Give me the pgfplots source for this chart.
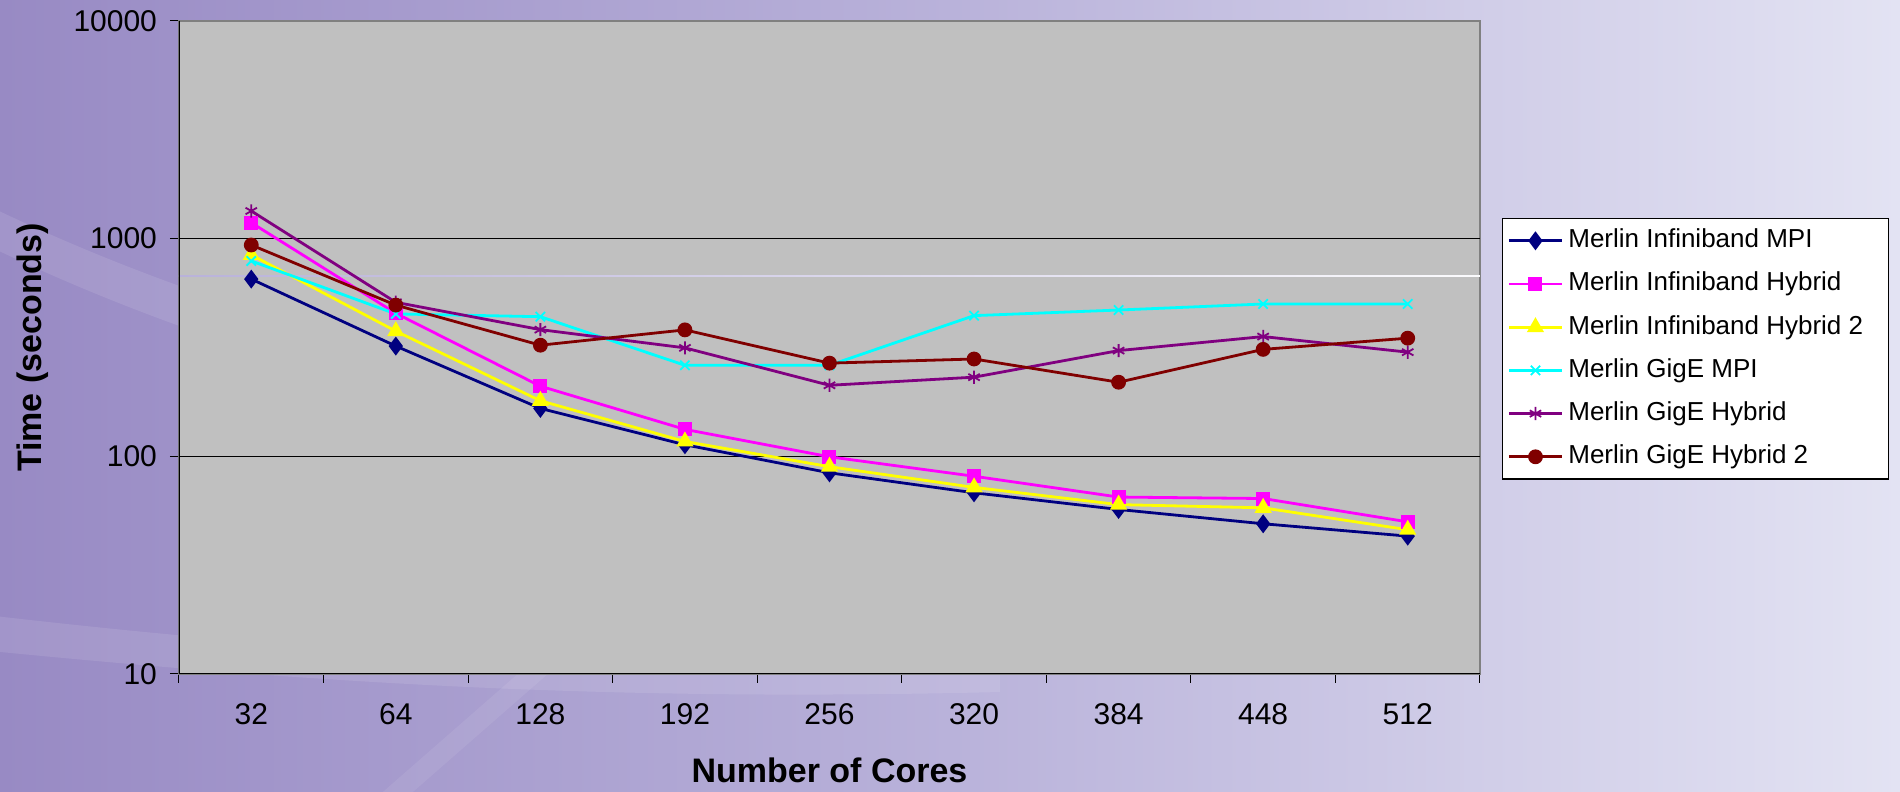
\documentclass[border=0pt]{standalone}
\usepackage{fontspec}
\setmainfont{Liberation Sans}
\usepackage{pgfplots}
\pgfplotsset{compat=1.18}

\definecolor{bgL}{HTML}{988AC4}
\definecolor{bgM}{HTML}{B9B2DA}
\definecolor{bgR}{HTML}{E3E3F3}
\definecolor{plotgray}{HTML}{C0C0C0}
\definecolor{frame}{HTML}{808080}
\definecolor{ibmpi}{HTML}{000080}
\definecolor{ibhyb}{HTML}{FF00FF}
\definecolor{ibhybb}{HTML}{FFFF00}
\definecolor{gmpi}{HTML}{00FFFF}
\definecolor{ghyb}{HTML}{800080}
\definecolor{ghybb}{HTML}{800000}

% run times in seconds, by core count (index 0..8 = 32,64,...,512)
\pgfplotstableread{
idx  ibmpi  ibhyb  ibhybb  gmpi  ghyb  ghybb
0    652    1184   842     790   1340  935
1    321    454    376     451   510   495
2    166    210    180     438   382   324
3    113    133    117     262   315   381
4    84     99.5   89.6    262   212   268
5    68     81     72      443   231   280
6    57     65     60      470   306   219
7    49     64     58      501   355   310
8    43     50     46      501   301   349
}\timings

\begin{document}
\begin{tikzpicture}
\useasboundingbox (0,0) rectangle (950pt,396pt);
\shade[left color=bgL, right color=bgR, middle color=bgM] (0,0) rectangle (950pt,396pt);
% soft decorative bands in the slide background
\begin{scope}
\clip (0,0) rectangle (950pt,396pt);
\fill[white, opacity=0.10] (-20pt,300pt) .. controls (80pt,250pt) and (160pt,230pt) .. (260pt,200pt) -- (260pt,180pt) .. controls (160pt,210pt) and (80pt,230pt) .. (-20pt,280pt) -- cycle;
\fill[white, opacity=0.10] (-20pt,90pt) .. controls (150pt,70pt) and (300pt,60pt) .. (500pt,65pt) -- (500pt,50pt) .. controls (300pt,45pt) and (150pt,55pt) .. (-20pt,72pt) -- cycle;
\fill[white, opacity=0.08] (180pt,-10pt) -- (260pt,60pt) -- (275pt,60pt) -- (195pt,-10pt) -- cycle;
\end{scope}
\begin{axis}[
  at={(89.5pt,59pt)}, anchor=south west,
  scale only axis, width=650.5pt, height=326.5pt,
  xmin=-0.5, xmax=8.5, ymin=10, ymax=10000, ymode=log,
  axis background/.style={fill=plotgray},
  xtick={0,...,8}, xticklabels={32,64,128,192,256,320,384,448,512},
  minor xtick={-0.5,0.5,...,8.5},
  ytick={10,100,1000,10000}, yticklabels={10,100,1000,10000},
  yminorticks=false,
  xtick pos=bottom, ytick pos=left,
  extra y ticks={100,1000}, extra y tick labels={},
  extra y tick style={grid=major, major tick length=0pt},
  grid style={black, line width=0.5pt},
  tick align=outside, major tick length=4.5pt, minor tick length=4.5pt,
  major x tick style={draw=none},
  tick style={black, line width=0.5pt},
  axis line style={draw=frame, line width=0.6pt},
  ticklabel style={font=\fontsize{15}{18}\selectfont},
  /pgf/number format/assume math mode=true,
  xticklabel style={yshift=-7pt},
  yticklabel style={xshift=-3pt},
  xlabel={Number of Cores}, ylabel={Time (seconds)},
  every axis x label/.style={at={([yshift=-54.5pt]axis description cs:0.5,0)}, anchor=base,
    font=\bfseries\fontsize{17}{20}\selectfont},
  every axis y label/.style={at={([xshift=-68.7pt]axis description cs:0,0.5)}, rotate=90, anchor=base,
    font=\bfseries\fontsize{17}{20}\selectfont},
  legend cell align=left,
  legend style={at={(1.0169,0.6983)}, anchor=north west,
    draw=black, fill=white, line width=0.6pt,
    font=\fontsize{13}{15}\selectfont,
    inner xsep=2.5pt, inner ysep=3.1pt, row sep=5.6pt, column sep=0.5pt,
    nodes={inner sep=2pt, text height=9.5pt, text depth=2.5pt}},
  legend image code/.code={\draw[mark repeat=2,mark phase=2] plot coordinates {(0pt,0pt) (13.25pt,0pt) (26.5pt,0pt)};},
  every axis plot/.append style={line width=1.4pt},
]
% faint highlight line running across the plotting area
\fill[left color=bgM, right color=white!85!bgR] ([yshift=-0.4pt]axis cs:-0.5,674) rectangle ([yshift=0.4pt]axis cs:8.5,674);

\addplot[color=ibmpi, mark=diamond*, mark size=3.6pt, mark options={solid, fill=ibmpi}] table[x=idx, y=ibmpi] {\timings};
\addlegendentry{Merlin Infiniband MPI}
\addplot[color=ibhyb, mark=square*, mark size=2.8pt, mark options={solid, fill=ibhyb}] table[x=idx, y=ibhyb] {\timings};
\addlegendentry{Merlin Infiniband Hybrid}
\addplot[color=ibhybb, mark=triangle*, mark size=3.6pt, mark options={solid, fill=ibhybb}] table[x=idx, y=ibhybb] {\timings};
\addlegendentry{Merlin Infiniband Hybrid 2\hspace*{8pt}}
\addplot[color=gmpi, mark=x, mark size=3.3pt, mark options={solid, line width=0.9pt}] table[x=idx, y=gmpi] {\timings};
\addlegendentry{Merlin GigE MPI}
\addplot[color=ghyb, mark=asterisk, mark size=3.3pt, mark options={solid, line width=0.9pt}] table[x=idx, y=ghyb] {\timings};
\addlegendentry{Merlin GigE Hybrid}
\addplot[color=ghybb, mark=*, mark size=3pt, mark options={solid, fill=ghybb}] table[x=idx, y=ghybb] {\timings};
\addlegendentry{Merlin GigE Hybrid 2}

\draw[black, line width=0.6pt] (rel axis cs:0,1) -- (rel axis cs:0,0) -- (rel axis cs:1,0);
\end{axis}
\end{tikzpicture}
\end{document}
